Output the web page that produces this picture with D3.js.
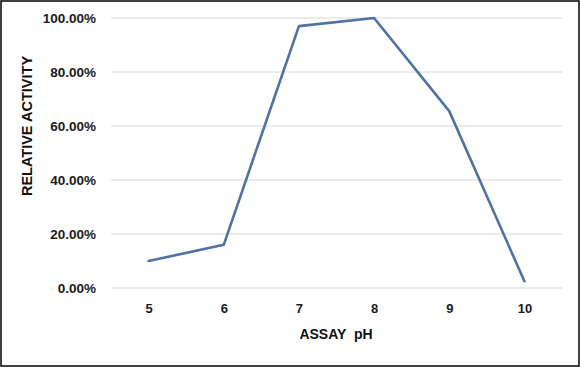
<!DOCTYPE html>
<html><head><meta charset="utf-8">
<script src="https://cdn.jsdelivr.net/npm/d3@7"></script>
<style>body{margin:0;background:#fff}svg{display:block}</style>
</head><body>
<svg id="c" width="580" height="367"></svg>
<script>
const categories = ["5","6","7","8","9","10"];
const values = [0.10, 0.16, 0.97, 1.00, 0.655, 0.025];
const yTicks = [0, 0.2, 0.4, 0.6, 0.8, 1.0];

(function(){
const svg = d3.select("#c");
const W = 580, H = 367;
svg.append("rect").attr("x",1).attr("y",1).attr("width",W-2).attr("height",H-2)
  .attr("fill","#fff").attr("stroke","#000").attr("stroke-width",1.5);

const pl = 111, pr = 562, pt = 18, pb = 288;
const x = d3.scalePoint().domain(categories).range([pl,pr]).padding(0.5);
const y = d3.scaleLinear().domain([0,1]).range([pb,pt]);
const font = "'Liberation Sans', Arial, sans-serif";

svg.append("g").selectAll("line").data(yTicks).join("line")
  .attr("x1",pl).attr("x2",pr)
  .attr("y1",d=>y(d)).attr("y2",d=>y(d))
  .attr("stroke","#d9d9d9").attr("stroke-width",1.2);

const yAxis = d3.axisLeft(y).tickValues(yTicks).tickSize(0).tickPadding(0)
  .tickFormat(d=>(d*100).toFixed(2)+"%");
const gy = svg.append("g").attr("transform",`translate(96,0)`).call(yAxis);
gy.select(".domain").remove();
gy.selectAll("text").attr("font-family",font).attr("font-size",13.5).attr("font-weight","bold").attr("fill","#1a1a1a");

const xAxis = d3.axisBottom(x).tickSize(0).tickPadding(0);
const gx = svg.append("g").attr("transform",`translate(0,304)`).call(xAxis);
gx.select(".domain").remove();
gx.selectAll("text").attr("font-family",font).attr("font-size",13).attr("font-weight","bold").attr("fill","#1a1a1a");

const line = d3.line().x((d,i)=>x(categories[i])).y(d=>y(d));
svg.append("path").datum(values).attr("d",line)
  .attr("fill","none").attr("stroke","#4f71a3").attr("stroke-width",2.6)
  .attr("stroke-linejoin","round").attr("stroke-linecap","round");

svg.append("text").attr("x",336).attr("y",339).attr("text-anchor","middle")
  .attr("font-family",font).attr("font-size",14).attr("font-weight","bold").attr("fill","#111")
  .attr("xml:space","preserve").style("white-space","pre")
  .text("ASSAY  pH");
svg.append("text").attr("transform","translate(32,126) rotate(-90)").attr("text-anchor","middle")
  .attr("font-family",font).attr("font-size",14.5).attr("font-weight","bold").attr("fill","#111")
  .text("RELATIVE ACTIVITY");
})();
</script>
</body></html>
